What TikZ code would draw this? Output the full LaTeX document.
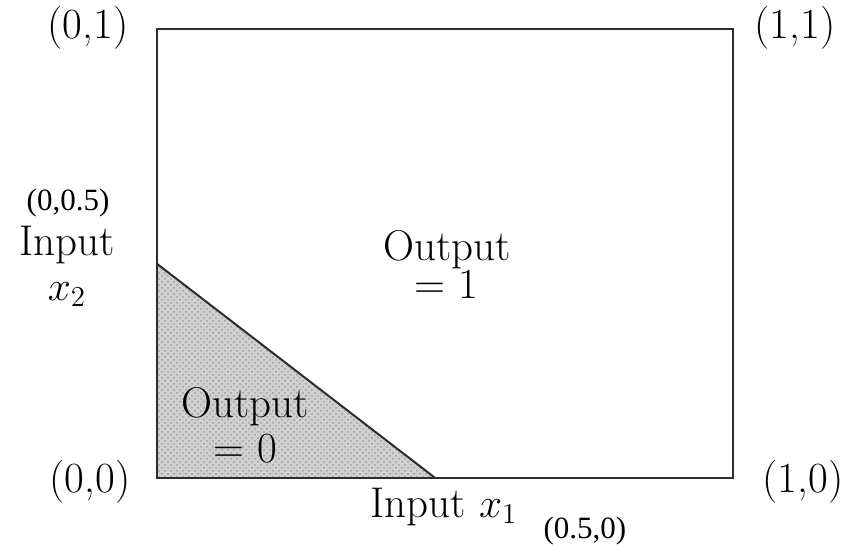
\documentclass[tikz,border=0pt]{standalone}
\usepackage{fontspec}
\newfontfamily\timesfont{Liberation Serif}
\usetikzlibrary{patterns}
\definecolor{EdgeGray}{RGB}{45,45,45}
\definecolor{ShadeGray}{RGB}{208,208,208}

\begin{document}
\begin{tikzpicture}[
  x=288pt, y=224.5pt,
  lbl/.style={inner sep=0pt, font=\fontsize{21.5}{26}\selectfont},
  stack/.style={lbl, align=center},
  note/.style={inner sep=0pt, font=\fontsize{15.5}{18}\selectfont\timesfont},
  edge/.style={draw=EdgeGray, line width=1pt},
]
\useasboundingbox (-0.2726,-0.1514) rectangle (1.2170,1.0646);

% unit square and the corner of output 0
\coordinate (o) at (0,0);
\coordinate (c11) at (1,1);
\coordinate (ta) at (0,0.477);
\coordinate (tb) at (0.483,0);

\fill[ShadeGray] (o) -- (ta) -- (tb) -- cycle;
\fill[pattern=crosshatch dots, pattern color=gray!75] (o) -- (ta) -- (tb) -- cycle;
\draw[edge] (ta) -- (tb);
\draw[edge] (o) rectangle (c11);

% corner labels
\node[lbl] (p01) at (-0.1198,1.0022) {(0,1)};
\node[lbl] (p11) at (1.1076,1.0022) {(1,1)};
\node[lbl] (p00) at (-0.1163,-0.0089) {(0,0)};
\node[lbl] (p10) at (1.1215,-0.0089) {(1,0)};
\node[note] (p005) at (-0.1545,0.6125) {(0,0.5)};
\node[note] (p050) at (0.743,-0.118) {(0.5,0)};

% axes
\node[stack, font=\fontsize{21.5}{22.5}\selectfont, anchor=base]
  (inx2) at (-0.1563,0.3964) {Input\\$x_2$};
\node[lbl, anchor=base] (inx1) at (0.4983,-0.0869) {Input $x_1$};

% regions
\node[stack, font=\fontsize{21.5}{18}\selectfont, anchor=base]
  (out1) at (0.503,0.3987) {Output\\= 1};
\node[stack, font=\fontsize{21.5}{22.5}\selectfont, anchor=base]
  (out0) at (0.1528,0.0356) {Output\\= 0};
\end{tikzpicture}
\end{document}
